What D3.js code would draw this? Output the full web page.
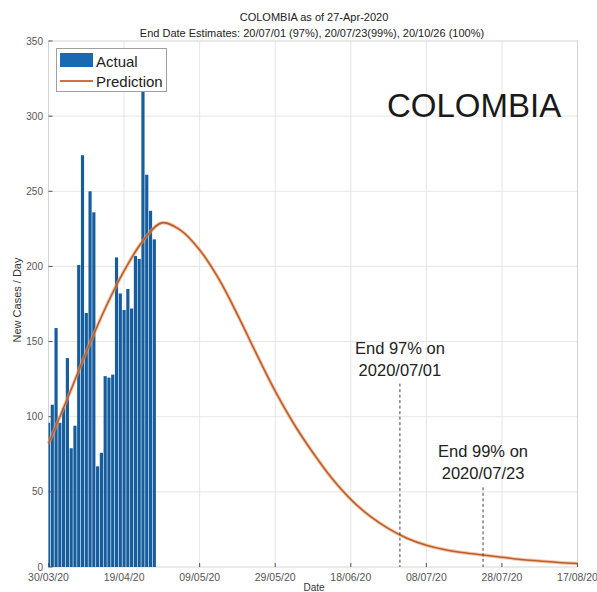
<!DOCTYPE html>
<html lang="en">
<head>
    <meta charset="UTF-8">
    <title>COLOMBIA as of 27-Apr-2020</title>
    <script src="https://d3js.org/d3.v7.min.js"></script>
    <style>
        body {
            margin: 0;
            padding: 0;
            background: #fff;
        }
        svg {
            font-family: "Liberation Sans", Arial, sans-serif;
        }
    </style>
</head>
<body>
    <svg width="597" height="592"></svg>

    <script>
        // data
        const startDate = "2020-03-30";
        const actualCases = [96, 108, 159, 96, 106, 139, 79, 94, 201, 274, 169, 250, 236, 67, 76,
                             127, 126, 128, 206, 182, 171, 185, 172, 207, 205, 320, 261, 237, 218];
        // prediction, one reading every 5 days from 30/03
        const predictionStep = 5;
        const predictionCases = [82, 112, 143, 172, 197, 217, 229, 224, 211, 192, 168, 142, 117, 95, 76,
                                 59, 45, 34, 25.5, 19, 14.5, 11.5, 9.5, 8, 6.5, 5, 4, 3, 2.3];
        const tickDates = ["2020-03-30", "2020-04-19", "2020-05-09", "2020-05-29",
                           "2020-06-18", "2020-07-08", "2020-07-28", "2020-08-17"];
        const yTicks = [0, 50, 100, 150, 200, 250, 300, 350];
        const endMarks = [
            { date: "2020-07-01", value: 122, lines: ["End 97% on", "2020/07/01"] },
            { date: "2020-07-23", value: 53, lines: ["End 99% on", "2020/07/23"] }
        ];

        const parse = d3.timeParse("%Y-%m-%d");
        const fmt = d3.timeFormat("%d/%m/%y");
        const day0 = parse(startDate);

        const plotLeft = 48.5, plotRight = 577.5, plotTop = 41, plotBottom = 567;

        const x = d3.scaleTime()
            .domain([parse(tickDates[0]), parse(tickDates[tickDates.length - 1])])
            .range([plotLeft, plotRight]);
        const y = d3.scaleLinear().domain([0, 350]).range([plotBottom, plotTop]);

        const svg = d3.select("svg");

        svg.append("defs").append("clipPath").attr("id", "plot")
            .append("rect")
            .attr("x", plotLeft).attr("y", plotTop)
            .attr("width", plotRight - plotLeft).attr("height", plotBottom - plotTop);

        // grid
        const grid = svg.append("g").attr("stroke", "#e6e6e6").attr("stroke-width", 1);
        grid.selectAll(".vg").data(tickDates.slice(1, -1)).join("line")
            .attr("x1", d => x(parse(d))).attr("x2", d => x(parse(d)))
            .attr("y1", plotTop).attr("y2", plotBottom);
        grid.selectAll(".hg").data(yTicks.slice(1, -1)).join("line")
            .attr("x1", plotLeft).attr("x2", plotRight)
            .attr("y1", d => y(d)).attr("y2", d => y(d));

        svg.append("rect")
            .attr("x", plotLeft).attr("y", plotTop)
            .attr("width", plotRight - plotLeft).attr("height", plotBottom - plotTop)
            .attr("fill", "none").attr("stroke", "#d4d4d4");

        // bars
        const dayW = x(d3.timeDay.offset(day0, 1)) - x(day0);
        const barW = dayW * 0.84;
        svg.append("g").attr("clip-path", "url(#plot)")
            .selectAll("rect").data(actualCases).join("rect")
            .attr("x", (d, i) => x(d3.timeDay.offset(day0, i)) - barW / 2)
            .attr("y", d => y(d))
            .attr("width", barW)
            .attr("height", d => y(0) - y(d))
            .attr("fill", "#155d9c");

        // prediction curve
        const line = d3.line()
            .x((d, i) => x(d3.timeDay.offset(day0, i * predictionStep)))
            .y(d => y(d))
            .curve(d3.curveCatmullRom.alpha(0.5));
        svg.append("path")
            .datum(predictionCases)
            .attr("d", line)
            .attr("fill", "none")
            .attr("stroke", "#f0a070")
            .attr("stroke-opacity", 0.6)
            .attr("stroke-width", 3.5);
        svg.append("path")
            .datum(predictionCases)
            .attr("d", line)
            .attr("fill", "none")
            .attr("stroke", "#b8602e")
            .attr("stroke-width", 1.6);

        // end-date markers
        const marks = svg.append("g");
        endMarks.forEach(m => {
            const mx = x(parse(m.date));
            marks.append("line")
                .attr("x1", mx).attr("x2", mx)
                .attr("y1", y(m.value)).attr("y2", plotBottom)
                .attr("stroke", "#444")
                .attr("stroke-width", 1)
                .attr("stroke-dasharray", "3,2.5");
            m.lines.forEach((t, k) => {
                marks.append("text")
                    .attr("x", mx)
                    .attr("y", y(m.value) - 30 + k * 22)
                    .attr("text-anchor", "middle")
                    .attr("font-size", "16.5px")
                    .attr("fill", "#222")
                    .text(t);
            });
        });

        // ticks
        const ticks = svg.append("g").attr("stroke", "#555");
        ticks.selectAll(".xt").data(tickDates).join("line")
            .attr("x1", d => x(parse(d))).attr("x2", d => x(parse(d)))
            .attr("y1", plotBottom).attr("y2", plotBottom - 4);
        ticks.selectAll(".yt").data(yTicks).join("line")
            .attr("x1", plotLeft).attr("x2", plotLeft + 4)
            .attr("y1", d => y(d)).attr("y2", d => y(d));

        svg.append("g").selectAll("text").data(tickDates).join("text")
            .attr("x", d => x(parse(d)))
            .attr("y", 581)
            .attr("text-anchor", "middle")
            .attr("font-size", "10.5px")
            .attr("fill", "#555")
            .text(d => fmt(parse(d)));

        svg.append("g").selectAll("text").data(yTicks).join("text")
            .attr("x", 43)
            .attr("y", d => y(d) + 3.5)
            .attr("text-anchor", "end")
            .attr("font-size", "10px")
            .attr("fill", "#555")
            .text(d => d);

        // axis labels
        svg.append("text")
            .attr("transform", "translate(21,300) rotate(-90)")
            .attr("text-anchor", "middle")
            .attr("font-size", "11px")
            .attr("fill", "#333")
            .text("New Cases / Day");
        svg.append("text")
            .attr("x", 314).attr("y", 591)
            .attr("text-anchor", "middle")
            .attr("font-size", "10px")
            .attr("fill", "#333")
            .text("Date");

        // titles
        svg.append("text")
            .attr("x", 314).attr("y", 21)
            .attr("text-anchor", "middle")
            .attr("font-size", "11px")
            .attr("fill", "#222")
            .text("COLOMBIA as of 27-Apr-2020");
        svg.append("text")
            .attr("x", 312).attr("y", 37)
            .attr("text-anchor", "middle")
            .attr("font-size", "11px")
            .attr("fill", "#222")
            .text("End Date Estimates: 20/07/01 (97%), 20/07/23(99%), 20/10/26 (100%)");

        svg.append("text")
            .attr("x", 387).attr("y", 117)
            .attr("font-size", "33px")
            .attr("fill", "#1a1a1a")
            .text("COLOMBIA");

        // legend
        const legend = svg.append("g");
        legend.append("rect")
            .attr("x", 56.5).attr("y", 48.5)
            .attr("width", 110).attr("height", 43)
            .attr("fill", "#fff").attr("stroke", "#a0a0a0");
        legend.append("rect")
            .attr("x", 60).attr("y", 53)
            .attr("width", 33).attr("height", 14)
            .attr("fill", "#1a6ab2");
        legend.append("line")
            .attr("x1", 60).attr("x2", 93)
            .attr("y1", 81).attr("y2", 81)
            .attr("stroke", "#d07040").attr("stroke-width", 2);
        legend.append("text")
            .attr("x", 96).attr("y", 67)
            .attr("font-size", "15px").attr("fill", "#222")
            .text("Actual");
        legend.append("text")
            .attr("x", 96).attr("y", 87)
            .attr("font-size", "15px").attr("fill", "#222")
            .text("Prediction");
    </script>
</body>
</html>
